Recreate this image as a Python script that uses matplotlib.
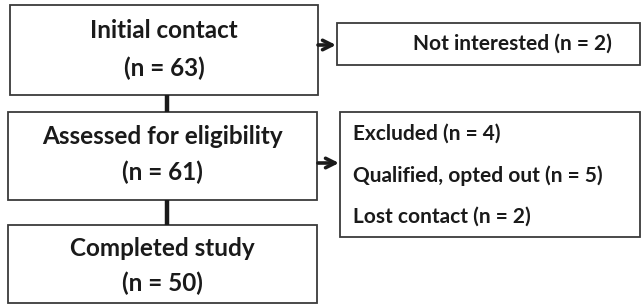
import matplotlib.pyplot as plt
from matplotlib.patches import Rectangle

# main flow boxes
main_titles = ["Initial contact", "Assessed for eligibility", "Completed study"]
main_counts = [63, 61, 50]

# side boxes (exclusions)
side_lines = [
    ["Not interested (n = 2)"],
    ["Excluded (n = 4)", "Qualified, opted out (n = 5)", "Lost contact (n = 2)"],
]

FONT = "Lato"
EDGE = "#3a3a3a"
TXT = "#1a1a1a"

fig = plt.figure(figsize=(6.43, 3.05), dpi=100)
ax = fig.add_axes([0, 0, 1, 1])
ax.set_xlim(0, 643)
ax.set_ylim(305, 0)
ax.axis("off")

# geometry in pixels: (x0, y0, x1, y1), plus text rows
main_boxes = [(10, 5, 318, 95), (8, 112, 317, 200), (8, 225, 317, 303)]
main_rows = [(30, 68), (137, 172), (249, 283)]
side_boxes = [(337, 23, 640, 65), (340, 112, 640, 237)]
side_rows = [134, 176, 217]

for (x0, y0, x1, y1), (ty, cy), title, n in zip(main_boxes, main_rows, main_titles, main_counts):
    ax.add_patch(Rectangle((x0, y0), x1 - x0, y1 - y0, fill=False, edgecolor=EDGE, lw=1.3))
    cx = (x0 + x1) / 2
    ax.text(cx, ty, title, ha="center", va="center", fontsize=17.5,
            fontweight="bold", family=FONT, color=TXT)
    ax.text(cx, cy, f"(n = {n})", ha="center", va="center", fontsize=17.5,
            fontweight="bold", family=FONT, color=TXT)

# thick connectors between main boxes
for (a, b) in zip(main_boxes[:-1], main_boxes[1:]):
    ax.plot([167, 167], [a[3], b[1]], color=TXT, lw=3.2, solid_capstyle="butt")

# side box 1
x0, y0, x1, y1 = side_boxes[0]
ax.add_patch(Rectangle((x0, y0), x1 - x0, y1 - y0, fill=False, edgecolor=EDGE, lw=1.3))
ax.text(512, (y0 + y1) / 2, side_lines[0][0], ha="center", va="center",
        fontsize=15, fontweight="bold", family=FONT, color=TXT)

# side box 2
x0, y0, x1, y1 = side_boxes[1]
ax.add_patch(Rectangle((x0, y0), x1 - x0, y1 - y0, fill=False, edgecolor=EDGE, lw=1.3))
for yy, line in zip(side_rows, side_lines[1]):
    ax.text(353, yy, line, ha="left", va="center",
            fontsize=15, fontweight="bold", family=FONT, color=TXT)

# arrows
for ya, xs, xe in [(45, 318, 336), (163, 318, 339)]:
    ax.annotate("", xy=(xe, ya), xytext=(xs, ya),
                arrowprops=dict(arrowstyle="->", color=TXT, lw=2.6,
                                mutation_scale=17, shrinkA=0, shrinkB=0))

fig.savefig("out.png", dpi=100)
